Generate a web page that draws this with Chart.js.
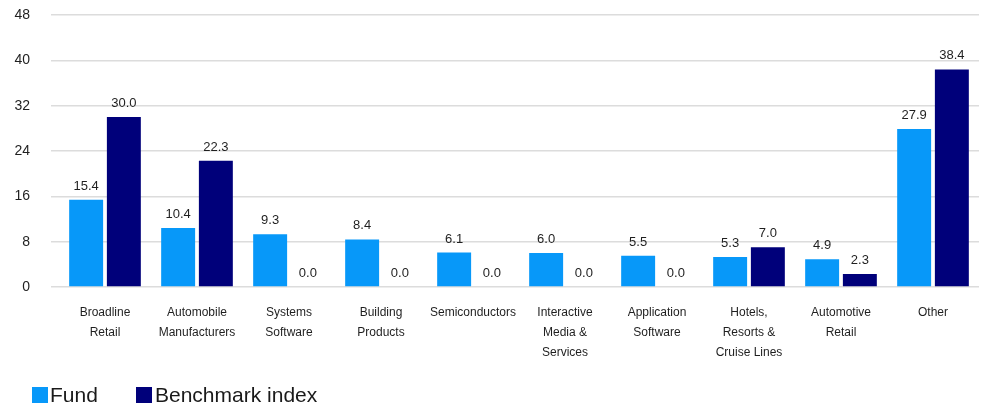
<!DOCTYPE html>
<html>
<head>
<meta charset="utf-8">
<script src="https://cdn.jsdelivr.net/npm/chart.js@4"></script>
<style>
  html, body { margin: 0; padding: 0; background: #ffffff; }
  #wrap { position: relative; width: 985px; height: 403px; overflow: hidden; }
  #c { position: absolute; left: 0; top: 0; }
  .lg-box { position: absolute; width: 16px; height: 16px; top: 387px; }
  .lg-txt { position: absolute; top: 384px; font-family: "Liberation Sans", Arial, sans-serif; font-size: 21px; line-height: 21px; color: #1a1a1a; white-space: nowrap; }
</style>
</head>
<body>
<div id="wrap">
  <canvas id="c" width="985" height="403"></canvas>
  <div class="lg-box" style="left:32px;background:#0798F9"></div>
  <div class="lg-txt" style="left:50px">Fund</div>
  <div class="lg-box" style="left:136px;background:#00007A"></div>
  <div class="lg-txt" style="left:155px">Benchmark index</div>
</div>
<script>
const categories = [
  ["Broadline", "Retail"],
  ["Automobile", "Manufacturers"],
  ["Systems", "Software"],
  ["Building", "Products"],
  ["Semiconductors"],
  ["Interactive", "Media &", "Services"],
  ["Application", "Software"],
  ["Hotels,", "Resorts &", "Cruise Lines"],
  ["Automotive", "Retail"],
  ["Other"]
];
const fundValues = [15.4, 10.4, 9.3, 8.4, 6.1, 6.0, 5.5, 5.3, 4.9, 27.9];
const benchmarkValues = [30.0, 22.3, 0.0, 0.0, 0.0, 0.0, 0.0, 7.0, 2.3, 38.4];
const seriesNames = ["Fund", "Benchmark index"];
const yTicks = [0, 8, 16, 24, 32, 40, 48];

const FONT = '"Liberation Sans", Arial, sans-serif';

const valueLabels = {
  id: 'valueLabels',
  afterDatasetsDraw(chart) {
    const ctx = chart.ctx;
    ctx.save();
    ctx.font = '13px ' + FONT;
    ctx.fillStyle = '#1f1f1f';
    ctx.textAlign = 'center';
    ctx.textBaseline = 'middle';
    chart.data.datasets.forEach((ds, di) => {
      const meta = chart.getDatasetMeta(di);
      meta.data.forEach((el, i) => {
        ctx.fillText(ds.data[i].toFixed(1), el.x, el.y - 13.5);
      });
    });
    ctx.restore();
  }
};

new Chart(document.getElementById('c'), {
  type: 'bar',
  data: {
    labels: categories,
    datasets: [
      { label: seriesNames[0], data: fundValues, backgroundColor: '#0798F9', borderWidth: 0,
        categoryPercentage: 0.82, barPercentage: 0.9 },
      { label: seriesNames[1], data: benchmarkValues, backgroundColor: '#00007A', borderWidth: 0,
        categoryPercentage: 0.82, barPercentage: 0.9 }
    ]
  },
  options: {
    responsive: false,
    animation: false,
    devicePixelRatio: 1,
    layout: { padding: { top: 15, right: 6, left: 0, bottom: 0 } },
    plugins: {
      legend: { display: false },
      tooltip: { enabled: false }
    },
    scales: {
      x: {
        grid: { display: false, drawTicks: false },
        border: { display: false },
        ticks: {
          autoSkip: false, maxRotation: 0, minRotation: 0,
          padding: 16,
          color: '#1f1f1f',
          font: { family: FONT, size: 12, lineHeight: 1.667 }
        },
        afterFit(scale) { scale.height = 116; }
      },
      y: {
        min: 0, max: 48,
        afterBuildTicks(scale) { scale.ticks = yTicks.map(v => ({ value: v })); },
        grid: { color: '#dcdcdc', lineWidth: 1.5, drawTicks: true, tickLength: 8 },
        border: { display: false },
        ticks: {
          padding: 21,
          color: '#1f1f1f',
          font: { family: FONT, size: 14 }
        },
        afterFit(scale) { scale.width = 59; scale.paddingTop = 0; scale.paddingBottom = 0; }
      }
    }
  },
  plugins: [valueLabels]
});
</script>
</body>
</html>
